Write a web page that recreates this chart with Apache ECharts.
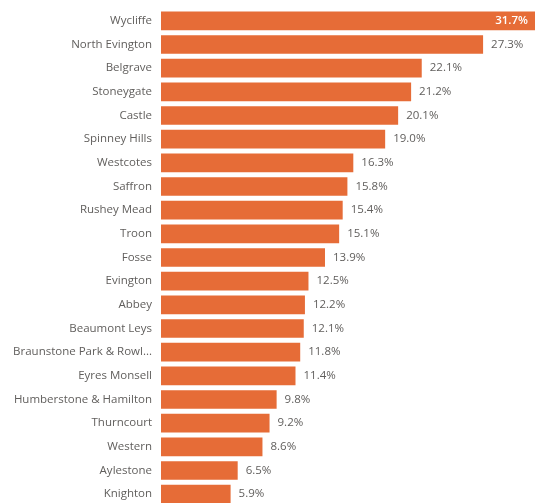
<!DOCTYPE html>
<html>
<head>
<meta charset="utf-8">
<script src="https://cdn.jsdelivr.net/npm/echarts@6/dist/echarts.min.js"></script>
<style>
  html, body { margin: 0; padding: 0; background: #fff; }
  #chart { width: 536px; height: 503px; }
</style>
</head>
<body>
<div id="chart"></div>
<script>
// Ward names, top to bottom
const wards = [
  'Wycliffe', 'North Evington', 'Belgrave', 'Stoneygate', 'Castle',
  'Spinney Hills', 'Westcotes', 'Saffron', 'Rushey Mead', 'Troon',
  'Fosse', 'Evington', 'Abbey', 'Beaumont Leys', 'Braunstone Park & Rowley Fields',
  'Eyres Monsell', 'Humberstone & Hamilton', 'Thurncourt', 'Western', 'Aylestone',
  'Knighton'
];
// Percentage per ward
const shares = [
  31.7, 27.3, 22.1, 21.2, 20.1,
  19.0, 16.3, 15.8, 15.4, 15.1,
  13.9, 12.5, 12.2, 12.1, 11.8,
  11.4, 9.8, 9.2, 8.6, 6.5,
  5.9
];

const FONT = '"Open Sans", "Noto Sans", sans-serif';
const TEXT = '#605E5C';
const BAR = '#E66C37';
const maxShare = Math.max(...shares);

// The longest bar carries its label inside, in white
const barData = shares.map((v, i) => {
  if (v === maxShare) {
    return {
      value: v,
      label: { position: 'insideRight', color: '#ffffff', fontWeight: 600, distance: 7 }
    };
  }
  return v;
});

const chart = echarts.init(document.getElementById('chart'), null, { renderer: 'canvas' });
chart.setOption({
  animation: false,
  grid: {
    left: 161, right: 1, top: 9, bottom: -3,
    containLabel: false,
    outerBoundsMode: 'none'
  },
  xAxis: {
    type: 'value', min: 0, max: maxShare, show: false
  },
  yAxis: {
    type: 'category',
    data: wards,
    inverse: true,
    axisLine: { show: false },
    axisTick: { show: false },
    axisLabel: {
      margin: 9,
      color: TEXT,
      fontFamily: FONT,
      fontSize: 11.5,
      formatter: name => name.length > 22 ? name.slice(0, 22) + '...' : name
    }
  },
  series: [{
    type: 'bar',
    data: barData,
    barCategoryGap: '21%',
    itemStyle: { color: BAR },
    label: {
      show: true,
      position: 'right',
      distance: 8,
      color: TEXT,
      fontFamily: FONT,
      fontSize: 11.5,
      formatter: p => p.value.toFixed(1) + '%'
    }
  }]
});
</script>
</body>
</html>
